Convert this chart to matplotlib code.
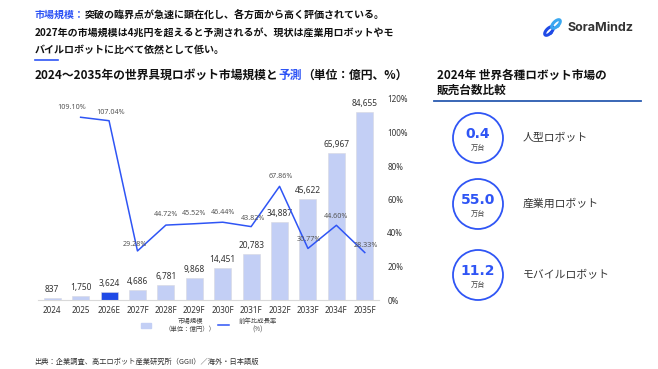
import matplotlib.pyplot as plt
from matplotlib.patches import Circle
import numpy as np

plt.rcParams['font.family'] = ['Noto Sans CJK JP', 'DejaVu Sans']

years = ['2024', '2025', '2026E', '2027F', '2028F', '2029F', '2030F',
         '2031F', '2032F', '2033F', '2034F', '2035F']
market = [837, 1750, 3624, 4686, 6781, 9868, 14451, 20783, 34887, 45622, 65967, 84655]
growth = [None, 109.10, 107.04, 29.28, 44.72, 45.52, 46.44, 43.82, 67.86, 30.77, 44.60, 28.33]

units = ['0.4', '55.0', '11.2']
unit_names = ['人型ロボット', '産業用ロボット', 'モバイルロボット']

BLUE = '#2f55f5'
LIGHT = '#c3cff5'
DARK = '#1f4ae6'
TXT = '#333333'

W, H = 658, 369
fig = plt.figure(figsize=(W / 100, H / 100), dpi=100)
renderer = fig.canvas.get_renderer()


def fx(x):
    return x / W


def fy(y):
    return 1 - y / H


def chain(x, y, parts, **kw):
    # write several coloured pieces one after another on the same line
    for txt, col in parts:
        t = fig.text(fx(x), fy(y), txt, color=col, va='center', **kw)
        x = t.get_window_extent(renderer).x1


# header text
chain(35, 15, [('市場規模：', BLUE), ('突破の臨界点が急速に顕在化し、各方面から高く評価されている。', '#111111')],
      fontsize=7.2, fontweight='bold')
fig.text(fx(35), fy(33), '2027年の市場規模は4兆円を超えると予測されるが、現状は産業用ロボットやモ',
         color='#111111', fontsize=7.2, fontweight='bold', va='center')
fig.text(fx(35), fy(50), 'バイルロボットに比べて依然として低い。',
         color='#111111', fontsize=7.2, fontweight='bold', va='center')
fig.add_artist(plt.Line2D([fx(35), fx(58)], [fy(60), fy(60)], color=BLUE, lw=1.2))

# logo
fig.text(fx(567), fy(28), 'SoraMindz', color='#333333', fontsize=9, fontweight='bold',
         va='center', family=['Inter', 'DejaVu Sans'])
t = np.linspace(0, 2 * np.pi, 50)
for cx, cy, col in [(549, 31, '#1f4ae6'), (556, 24, '#3aa8f0')]:
    xs = cx + 2.6 * np.cos(t)
    ys = cy + 5.5 * np.sin(t)
    ang = np.deg2rad(45)
    rx = cx + (xs - cx) * np.cos(ang) - (ys - cy) * np.sin(ang)
    ry = cy + (xs - cx) * np.sin(ang) + (ys - cy) * np.cos(ang)
    fig.add_artist(plt.Line2D(fx(rx), fy(ry), color=col, lw=2.2))

# chart title
chain(35, 75, [('2024～2035年の世界具現ロボット市場規模と', '#111111'), ('予測', BLUE),
               ('（単位：億円、%）', '#111111')], fontsize=8.5, fontweight='bold')

# main chart
ax = fig.add_axes([fx(38), fy(300), fx(379 - 38), fy(99) - fy(300)])
x = np.arange(len(years))
colors = [DARK if y == '2026E' else LIGHT for y in years]
ax.bar(x, market, width=0.6, color=colors, edgecolor='#d8d8e0', linewidth=0.4, zorder=2)
ax.set_ylim(0, 90400)
ax.set_xlim(-0.5, len(years) - 0.5)
for i, v in enumerate(market):
    ax.text(i, v + 1800, f'{v:,}', ha='center', va='bottom', fontsize=6, color=TXT,
            family=['Noto Sans', 'DejaVu Sans'])
ax.set_xticks(x)
ax.set_xticklabels(years, fontsize=5.8, color=TXT, family=['Noto Sans', 'DejaVu Sans'])
ax.tick_params(axis='x', length=0, pad=4)
ax.set_yticks([])
for s in ['top', 'right', 'left']:
    ax.spines[s].set_visible(False)
ax.spines['bottom'].set_color('#d9d9d9')
ax.patch.set_alpha(0)

ax2 = ax.twinx()
gx = [i for i, g in enumerate(growth) if g is not None]
gy = [g for g in growth if g is not None]
ax2.plot(gx, gy, color=BLUE, lw=1.1, zorder=3)
ax2.set_ylim(0, 120)
ax2.set_yticks(range(0, 121, 20))
ax2.set_yticklabels([f'{v}%' for v in range(0, 121, 20)], fontsize=5.8, color=TXT,
                    family=['Noto Sans', 'DejaVu Sans'])
ax2.tick_params(axis='y', length=0, pad=6)
for s in ax2.spines.values():
    s.set_visible(False)
offsets = {1: (-0.3, 4), 2: (0.05, 3), 3: (-0.1, 2), 4: (0, 4), 5: (0, 4), 6: (0, 4),
           7: (0.05, 3), 8: (0.05, 4), 9: (0.05, 3), 10: (0, 3), 11: (0.05, 2)}
for i, g in zip(gx, gy):
    dx, dy = offsets[i]
    ax2.text(i + dx, g + dy, f'{g:.2f}%', ha='center', va='bottom', fontsize=5.2,
             color='#555555', family=['Noto Sans', 'DejaVu Sans'])

# legend
fig.add_artist(plt.Rectangle((fx(141), fy(328)), fx(10), fy(323) - fy(328), color=LIGHT))
fig.text(fx(190), fy(325), '市場規模\n（単位：億円））', fontsize=4.6, color='#444444',
         ha='center', va='center', linespacing=1.1)
fig.add_artist(plt.Line2D([fx(218), fx(229)], [fy(325), fy(325)], color=BLUE, lw=1.1))
fig.text(fx(258), fy(325), '前年比成長率\n(%)', fontsize=4.6, color='#444444',
         ha='center', va='center', linespacing=1.1)

# source
fig.text(fx(34), fy(362), '出典：企業調査、高工ロボット産業研究所（GGII）／海外・日本語版',
         fontsize=5.2, color='#333333', va='center')

# right panel
fig.text(fx(437), fy(75), '2024年 世界各種ロボット市場の', fontsize=8.4, fontweight='bold',
         color='#111111', va='center')
fig.text(fx(437), fy(90), '販売台数比較', fontsize=8.4, fontweight='bold',
         color='#111111', va='center')
fig.add_artist(plt.Line2D([fx(434), fx(641)], [fy(101), fy(101)], color='#2a5bb0', lw=1.3))

cax = fig.add_axes([0, 0, 1, 1])
cax.set_xlim(0, W)
cax.set_ylim(H, 0)
cax.axis('off')
for cy, val, name in zip([138, 204, 275], units, unit_names):
    cax.add_patch(Circle((478, cy), 25, fill=False, edgecolor=BLUE, lw=1.3))
    cax.text(478, cy - 4, val, ha='center', va='center', fontsize=10, fontweight='bold',
             color=BLUE, family=['DejaVu Sans'])
    cax.text(478, cy + 10, '万台', ha='center', va='center', fontsize=5.2, color='#444444')
    cax.text(523, cy, name, ha='left', va='center', fontsize=7.8, color='#333333')
cax.set_aspect('equal')

fig.savefig('out.png', dpi=100)
